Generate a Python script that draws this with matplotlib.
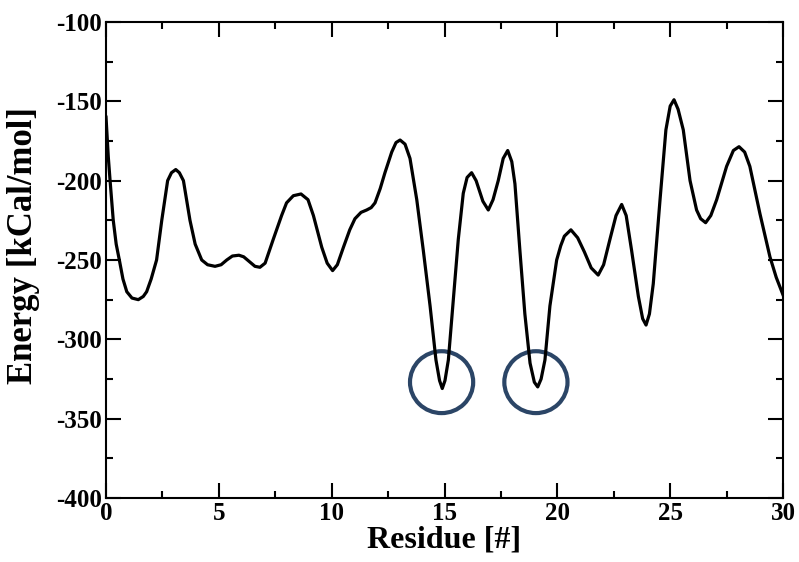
import matplotlib.pyplot as plt
from matplotlib.patches import Ellipse
from matplotlib.ticker import MultipleLocator

# Values
residue = [0.0, 0.10, 0.18, 0.32, 0.45, 0.59, 0.75, 0.92, 1.15, 1.43, 1.65, 1.80,
           2.00, 2.24, 2.47, 2.73, 2.90, 3.09, 3.25, 3.43, 3.72, 3.95, 4.24, 4.50,
           4.83, 5.10, 5.35, 5.60, 5.89, 6.10, 6.35, 6.60, 6.82, 7.05, 7.41, 7.78,
           8.00, 8.30, 8.64, 8.95, 9.19, 9.56, 9.80, 10.04, 10.25, 10.52, 10.80,
           11.03, 11.30, 11.55, 11.75, 11.92, 12.15, 12.36, 12.66, 12.85, 13.03,
           13.25, 13.47, 13.77, 14.06, 14.36, 14.62, 14.78, 14.90, 15.02, 15.17,
           15.39, 15.61, 15.83, 16.00, 16.20, 16.40, 16.70, 16.94, 17.15, 17.38,
           17.60, 17.80, 17.98, 18.12, 18.34, 18.56, 18.79, 18.98, 19.13, 19.28,
           19.45, 19.67, 19.97, 20.15, 20.31, 20.60, 20.90, 21.20, 21.50, 21.81,
           22.05, 22.33, 22.60, 22.85, 23.05, 23.29, 23.59, 23.78, 23.93, 24.08,
           24.25, 24.55, 24.81, 25.00, 25.17, 25.35, 25.58, 25.88, 26.17, 26.35,
           26.57, 26.80, 27.06, 27.50, 27.80, 28.05, 28.30, 28.53, 28.98, 29.42,
           29.70, 30.00]
energy = [-160, -185, -200, -225, -240, -250, -262, -270, -274, -275, -273, -270,
          -262, -250, -225, -200, -195, -193, -195, -200, -225, -240, -250, -253,
          -254, -253, -250, -247.5, -247, -248, -251, -254, -254.6, -252, -237, -222,
          -214, -209.5, -208.4, -212, -222, -242, -252, -256.7, -253, -242, -231,
          -224, -220, -218.5, -217, -214, -205, -195, -182, -176, -174.4,
          -177, -186, -212, -244, -279, -313, -326, -331, -326, -313,
          -275, -237, -208, -198, -195, -200, -213, -218.5, -212, -200,
          -186, -181, -188, -202, -244, -284, -315, -327, -330, -325,
          -313, -279, -250, -241, -235, -231, -236, -245, -255, -259.5,
          -253, -237, -222, -215, -222, -244, -273, -287, -291, -284,
          -265, -212, -168, -153, -149, -155, -168, -200, -218.5, -224,
          -226.5, -222, -212, -191, -181, -178.6, -182, -191, -221, -248,
          -261, -272]

circle_x = [14.87, 19.05]
circle_y = [-327, -327]

plt.rcParams['font.family'] = ['Liberation Serif', 'DejaVu Serif']
plt.rcParams['font.weight'] = 'bold'
plt.rcParams['axes.unicode_minus'] = False

fig = plt.figure(figsize=(7.99, 5.62), dpi=100)
ax = fig.add_axes([0.1327, 0.1139, 0.8473, 0.847])

ax.plot(residue, energy, color='black', linewidth=2.3, solid_joinstyle='round')

# Highlight circles around the two minima
for cx, cy in zip(circle_x, circle_y):
    ax.add_patch(Ellipse((cx, cy), 2.8, 39, fill=False, edgecolor='#2b4566', linewidth=3))

ax.set_xlim(0, 30)
ax.set_ylim(-400, -100)
ax.xaxis.set_major_locator(MultipleLocator(5))
ax.xaxis.set_minor_locator(MultipleLocator(2.5))
ax.yaxis.set_major_locator(MultipleLocator(50))
ax.yaxis.set_minor_locator(MultipleLocator(25))
ax.tick_params(which='both', direction='in', top=True, right=True, width=1.5,
               labelsize=18)
ax.tick_params(which='major', length=11, pad=3)
ax.tick_params(which='minor', length=5)
for s in ax.spines.values():
    s.set_linewidth(1.5)

ax.set_xlabel('Residue [#]', fontsize=23, fontweight='bold', labelpad=0)
ax.set_ylabel('Energy [kCal/mol]', fontsize=25, fontweight='bold')
ax.yaxis.set_label_coords(-0.097, 0.53)

fig.savefig('out.png', dpi=100)
